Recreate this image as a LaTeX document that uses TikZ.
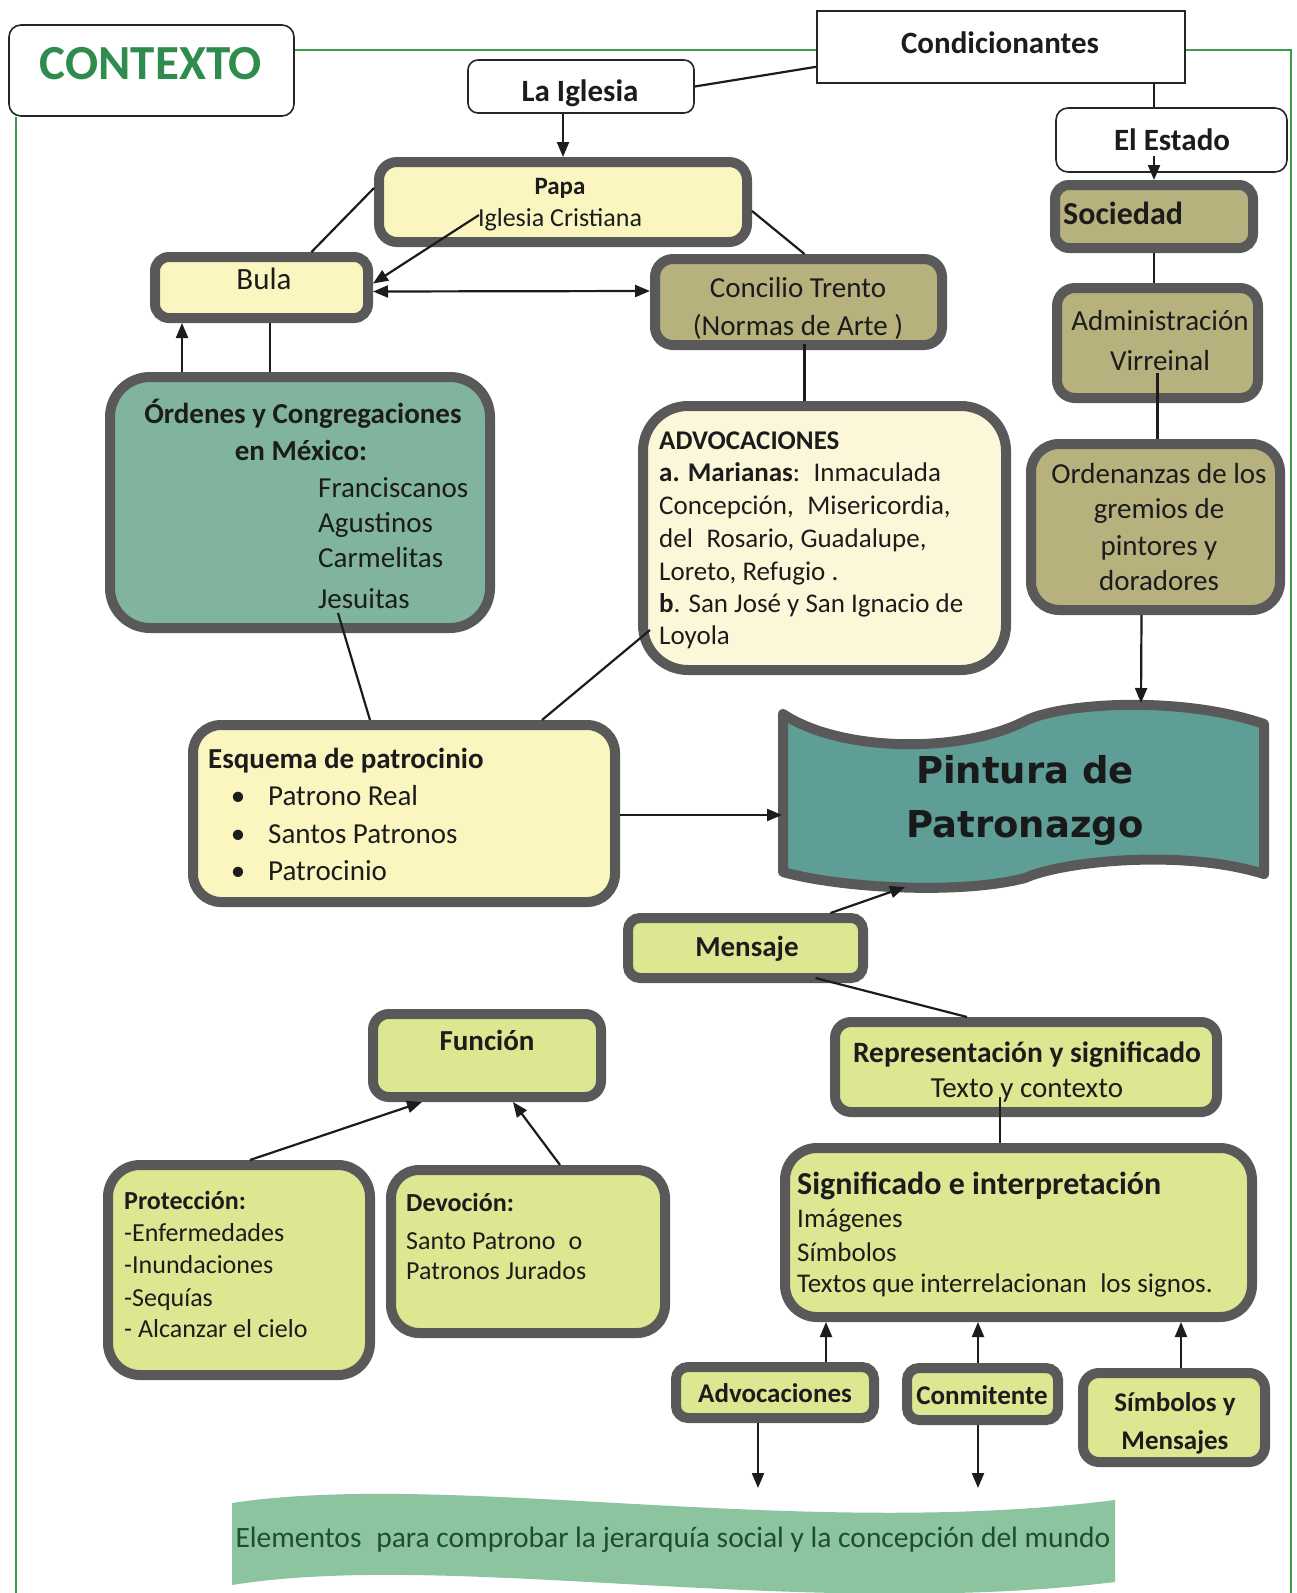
\documentclass[tikz,border=0pt]{standalone}
\usepackage{fontspec}
\setmainfont{Carlito}
\newfontfamily\dvs{DejaVu Sans}
\usetikzlibrary{arrows.meta,calc}
\definecolor{frameg}{HTML}{3D9A4E}
\definecolor{ctxg}{HTML}{2F8C4C}
\definecolor{bord}{HTML}{595959}
\definecolor{lyel}{HTML}{FBF6BF}
\definecolor{olivec}{HTML}{B6B17D}
\definecolor{creamc}{HTML}{FDF7D9}
\definecolor{ordteal}{HTML}{81B49F}
\definecolor{pintc}{HTML}{5F9E97}
\definecolor{ygr}{HTML}{DDE792}
\definecolor{elemc}{HTML}{8BC49F}
\definecolor{elemt}{HTML}{1D4F2A}
\definecolor{ink}{HTML}{1C1C1C}
\newcommand\fsz[1]{\fontsize{#1}{#1}\selectfont}
\newcommand\mkbox[6]{\node[#2, minimum width={#5pt-#3pt-10pt}, minimum height={#6pt-#4pt-10pt}] (#1) at ({(#3+#5)/2},{(#4+#6)/2}) {};}
\newcommand\mkthin[6]{\node[#2, minimum width={#5pt-#3pt-2pt}, minimum height={#6pt-#4pt-2pt}] (#1) at ({(#3+#5)/2},{(#4+#6)/2}) {};}
\newcommand\putw[5][]{\node[anchor=mid west,inner sep=0,text=ink,#1] (#2) at (#3,#4) {#5};}
\newcommand\putc[5][]{\node[anchor=mid,inner sep=0,text=ink,#1] (#2) at (#3,#4) {#5};}
\tikzset{
  thickbox/.style={draw=bord, line width=10pt, rounded corners=#1, inner sep=0pt},
  thickbox/.default=18,
  thinbox/.style={draw=black!85, line width=1.6pt, fill=white, inner sep=0pt},
  conn/.style={draw=ink, line width=2.2pt},
  arr/.style={conn, -{Triangle[length=15pt,width=12pt]}},
  darr/.style={conn, {Triangle[length=15pt,width=12pt]}-{Triangle[length=15pt,width=12pt]}},
  rg/.style={font={\fsz{29}}, yshift=-8pt},
  bd/.style={font={\fsz{29}\bfseries}, yshift=-8pt},
  hd/.style={font={\fsz{31}\bfseries}, yshift=-8.5pt},
  sm/.style={font={\fsz{26}}, yshift=-7pt},
  smb/.style={font={\fsz{26}\bfseries}, yshift=-7pt},
  md/.style={font={\fsz{27}}, yshift=-7pt},
  mdb/.style={font={\fsz{27}\bfseries}, yshift=-7pt},
}
\begin{document}
\begin{tikzpicture}[x=1pt,y=-1pt]
\useasboundingbox (0,0) rectangle (1297,1593);
\fill[white] (0,0) rectangle (1297,1593);
% green frame
\draw[frameg, line width=2.5pt] (16,117) -- (16,1593);
\draw[frameg, line width=2.5pt] (295,50) -- (816,50);
\draw[frameg, line width=2.5pt] (1186,50) -- (1291,50) -- (1291,1593);

% banners
\path[draw=bord, line width=10pt, line join=round, fill=pintc]
  (783,714) .. controls (840,752) and (960,754) .. (1025,721)
  .. controls (1060,703) and (1180,695) .. (1264,724) -- (1264,874)
  .. controls (1180,848) and (1060,862) .. (1025,878)
  .. controls (960,895) and (840,888) .. (783,872) -- cycle;
\fill[elemc] (232,1503) .. controls (450,1470) and (800,1540) .. (1115,1500)
  -- (1115,1582) .. controls (800,1620) and (450,1550) .. (232,1585) -- cycle;
\coordinate (pintT) at (1141,703);
\coordinate (pintL) at (782,815);
\coordinate (pintB) at (905,887);
\coordinate (e1) at (758,1488);
\coordinate (e2) at (978,1488);

% boxes
\mkthin{ctx}{thinbox, rounded corners=12}{8}{24}{295}{117}
\mkthin{cond}{thinbox}{816}{10}{1186}{84}
\mkthin{igl}{thinbox, rounded corners=10}{467}{59}{695}{114}
\mkthin{est}{thinbox, rounded corners=12}{1055}{107}{1288}{173}
\mkbox{papa}{thickbox=18, fill=lyel}{374}{157}{752}{247}
\mkbox{bula}{thickbox=14, fill=lyel}{150}{252}{373}{323}
\mkbox{conc}{thickbox=18, fill=olivec}{650}{254}{947}{350}
\mkbox{soc}{thickbox=14, fill=olivec}{1050}{180}{1258}{253}
\mkbox{adm}{thickbox=18, fill=olivec}{1052}{283}{1263}{403}
\mkbox{ord}{thickbox=28, fill=olivec}{1026}{439}{1285}{615}
\mkbox{advc}{thickbox=45, fill=creamc}{638}{401}{1011}{675}
\mkbox{ordn}{thickbox=40, fill=ordteal}{105}{372}{495}{633}
\mkbox{esq}{thickbox=28, fill=lyel}{188}{720}{620}{907}
\mkbox{mens}{thickbox=12, fill=ygr}{623}{913}{868}{983}
\mkbox{func}{thickbox=16, fill=ygr}{368}{1009}{606}{1102}
\mkbox{repr}{thickbox=16, fill=ygr}{830}{1017}{1222}{1117}
\mkbox{prot}{thickbox=32, fill=ygr}{103}{1160}{375}{1380}
\mkbox{devo}{thickbox=28, fill=ygr}{386}{1165}{670}{1338}
\mkbox{sign}{thickbox=32, fill=ygr}{780}{1143}{1257}{1322}
\mkbox{advs}{thickbox=12, fill=ygr}{671}{1362}{879}{1423}
\mkbox{conm}{thickbox=12, fill=ygr}{902}{1363}{1063}{1425}
\mkbox{simb}{thickbox=16, fill=ygr}{1078}{1368}{1270}{1467}

% texts
\putc[font={\fsz{49}\bfseries}, text=ctxg, yshift=-14pt]{tctx}{151}{63}{CONTEXTO}
\putc[hd]{tcond}{1000}{43}{Condicionantes}
\putc[hd]{tigl}{580}{91}{La Iglesia}
\putc[hd]{test}{1172}{140}{El Estado}
\putc[font={\fsz{25}\bfseries}, yshift=-6pt]{tpapa1}{560}{186}{Papa}
\putc[sm]{tpapa2}{560}{217}{Iglesia Cristiana}
\putc[font={\fsz{31}}, yshift=-8.5pt]{tbula}{264}{279}{Bula}
\putc[rg]{tconc1}{798}{287}{Concilio Trento}
\putc[rg]{tconc2}{798}{325}{(Normas de Arte )}
\putw[font={\fsz{32}\bfseries}, yshift=-9pt]{tsoc}{1063}{213}{Sociedad}
\putc[rg]{tadm1}{1160}{320}{Administración}
\putc[rg]{tadm2}{1160}{360}{Virreinal}
\putc[rg]{tord1}{1159}{473}{Ordenanzas de los}
\putc[rg]{tord2}{1159}{508}{gremios de}
\putc[rg]{tord3}{1159}{545}{pintores y}
\putc[rg]{tord4}{1159}{580}{doradores}
\putw[mdb]{tadv1}{659}{440}{ADVOCACIONES}
\putw[md]{tadv2}{659}{472}{\textbf{a. Marianas}:\enspace Inmaculada}
\putw[md]{tadv3}{659}{505}{Concepción,\enspace Misericordia,}
\putw[md]{tadv4}{659}{538}{del\enspace Rosario, Guadalupe,}
\putw[md]{tadv5}{659}{571}{Loreto, Refugio .}
\putw[md]{tadv6}{659}{603}{\textbf{b}. San José y San Ignacio de}
\putw[md]{tadv7}{659}{635}{Loyola}
\putc[bd]{tordn1}{303}{413}{Órdenes y Congregaciones}
\putc[bd]{tordn2}{301}{450}{en México:}
\putw[rg]{tordn3}{318}{487}{Franciscanos}
\putw[rg]{tordn4}{318}{522}{Agustinos}
\putw[rg]{tordn5}{318}{557}{Carmelitas}
\putw[rg]{tordn6}{318}{598}{Jesuitas}
\putw[bd]{tesq1}{208}{758}{Esquema de patrocinio}
\putc[rg]{tb1}{238}{795}{\textbullet}
\putc[rg]{tb2}{238}{833}{\textbullet}
\putc[rg]{tb3}{238}{870}{\textbullet}
\putw[rg]{tesq2}{268}{795}{Patrono Real}
\putw[rg]{tesq3}{268}{833}{Santos Patronos}
\putw[rg]{tesq4}{268}{870}{Patrocinio}
\putc[font={\dvs\fsz{37}\bfseries}, text=black!90, yshift=-12pt]{tpint1}{1025}{769}{Pintura de}
\putc[font={\dvs\fsz{37}\bfseries}, text=black!90, yshift=-12pt]{tpint2}{1025}{823}{Patronazgo}
\putc[bd]{tmens}{747}{946}{Mensaje}
\putc[bd]{tfunc}{487}{1040}{Función}
\putc[font={\fsz{29.5}\bfseries}, yshift=-8pt]{trepr1}{1027}{1052}{Representación y significado}
\putc[rg]{trepr2}{1027}{1087}{Texto y contexto}
\putw[smb]{tprot1}{124}{1200}{Protección:}
\putw[sm]{tprot2}{124}{1232}{-Enfermedades}
\putw[sm]{tprot3}{124}{1264}{-Inundaciones}
\putw[sm]{tprot4}{124}{1297}{-Sequías}
\putw[sm]{tprot5}{124}{1328}{- Alcanzar el cielo}
\putw[smb]{tdevo1}{406}{1202}{Devoción:}
\putw[sm]{tdevo2}{406}{1240}{Santo Patrono\enspace o}
\putw[sm]{tdevo3}{406}{1270}{Patronos Jurados}
\putw[font={\fsz{32}\bfseries}, yshift=-9pt]{tsign1}{797}{1183}{Significado e interpretación}
\putw[md]{tsign2}{797}{1218}{Imágenes}
\putw[md]{tsign3}{797}{1252}{Símbolos}
\putw[md]{tsign4}{797}{1283}{Textos que interrelacionan\enspace los signos.}
\putc[mdb]{tadvs}{775}{1393}{Advocaciones}
\putc[mdb]{tconm}{982}{1395}{Conmitente}
\putc[mdb]{tsimb1}{1175}{1402}{Símbolos y}
\putc[mdb]{tsimb2}{1175}{1440}{Mensajes}
\putc[font={\fsz{29.5}}, text=elemt, yshift=-8pt]{telem}{673}{1537}{Elementos\enspace para comprobar la jerarquía social y la concepción del mundo}

% connectors
\draw[conn] (igl.east) -- ($(cond.south west)+(0,-17)$);
\draw[arr] (papa.north |- igl.south) -- (papa.north);
\draw[conn] (soc.north |- cond.south) -- (soc.north |- est.north);
\draw[arr] ($(soc.north)+(0,-24)$) -- (soc.north);
\draw[conn] (soc.south) -- (soc.south |- adm.north);
\draw[conn] ($(adm.south)+(0,-30)$) -- (adm.south |- ord.north);
\draw[arr] ($(ord.south)+(-14,0)$) -- (pintT);
\draw[conn] ($(papa.west)+(0,-14)$) -- ($(bula.north)+(50,0)$);
\draw[arr] ($(papa.west)+(105,13)$) -- ($(bula.east)+(0,-4)$);
\draw[darr] ($(bula.east)+(0,4)$) -- ($(conc.west)+(0,-11)$);
\draw[conn] ($(papa.east)+(0,9)$) -- ($(conc.north)+(6,0)$);
\draw[conn] ($(conc.south)+(6,-6)$) -- ($(advc.north)+(-20,0)$);
\draw[arr] ($(ordn.north)+(-118,0)$) -- ($(bula.south)+(-79.5,0)$);
\draw[conn] ($(bula.south)+(8.5,0)$) -- ($(ordn.north)+(-30,0)$);
\draw[conn] ($(ordn.south)+(38,-20)$) -- ($(esq.north)+(-34,0)$);
\draw[conn] ($(advc.south west)+(12,-45)$) -- ($(esq.north)+(138,0)$);
\draw[arr] ($(esq.east)+(0,1.5)$) -- (pintL);
\draw[arr] ($(mens.north)+(85,0)$) -- (pintB);
\draw[conn] ($(mens.south)+(70,-5)$) -- ($(repr.north)+(-59,0)$);
\draw[conn] ($(repr.south)+(-26,-20)$) -- ($(sign.north)+(-18.5,0)$);
\draw[arr] ($(prot.north)+(11,0)$) -- ($(func.south)+(-65,0)$);
\draw[arr] ($(devo.north)+(32,0)$) -- ($(func.south)+(26,0)$);
\draw[arr] ($(advs.north)+(51,0)$) -- ($(sign.south)+(-192.5,0)$);
\draw[arr] ($(conm.north)+(-4.5,0)$) -- ($(sign.south)+(-40.5,0)$);
\draw[arr] ($(simb.north)+(7,0)$) -- ($(sign.south)+(162.5,0)$);
\draw[arr] ($(advs.south)+(-17,0)$) -- (e1);
\draw[arr] ($(conm.south)+(-4.5,0)$) -- (e2);
\end{tikzpicture}
\end{document}
